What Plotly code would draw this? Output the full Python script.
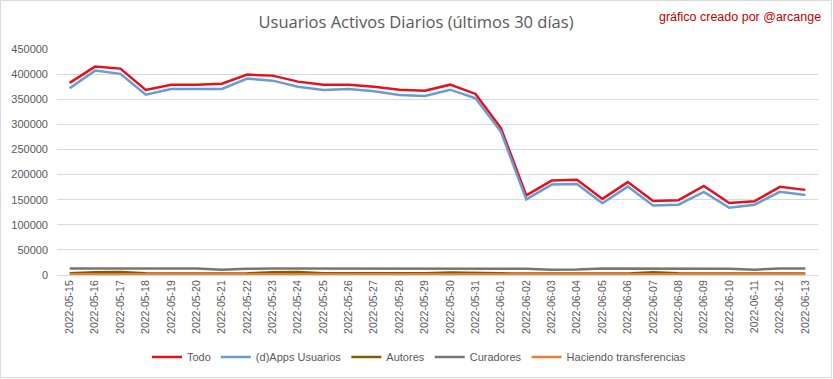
import plotly.graph_objects as go

dates = ["2022-05-15", "2022-05-16", "2022-05-17", "2022-05-18", "2022-05-19", "2022-05-20",
         "2022-05-21", "2022-05-22", "2022-05-23", "2022-05-24", "2022-05-25", "2022-05-26",
         "2022-05-27", "2022-05-28", "2022-05-29", "2022-05-30", "2022-05-31", "2022-06-01",
         "2022-06-02", "2022-06-03", "2022-06-04", "2022-06-05", "2022-06-06", "2022-06-07",
         "2022-06-08", "2022-06-09", "2022-06-10", "2022-06-11", "2022-06-12", "2022-06-13"]

todo = [382500, 415000, 411000, 368500, 379000, 379000, 381000, 399000, 397000, 385000,
        379000, 379000, 375000, 369000, 367000, 379000, 360500, 292500, 158500, 188000,
        189500, 151500, 185000, 147500, 149000, 177500, 143500, 147000, 175500, 169500]

dapps = [372000, 407000, 400500, 359000, 370500, 370500, 370500, 391000, 387000, 375000,
         368500, 370500, 366000, 358500, 356500, 369000, 352000, 285000, 150500, 180000,
         181000, 143000, 176000, 138500, 140000, 165500, 134000, 140000, 165500, 159500]

autores = [3500, 5500, 5800, 3500, 3200, 3200, 3000, 3500, 5500, 5800,
           3500, 3200, 3000, 3200, 3300, 5000, 3500, 3300, 3000, 3000,
           3000, 3000, 3200, 5500, 3300, 3000, 2800, 2800, 3000, 3000]

curadores = [13000, 13000, 13000, 13000, 13000, 13000, 10500, 12500, 13000, 13000,
             13000, 13000, 13000, 13000, 13000, 13000, 13000, 13000, 12500, 10500,
             11000, 13000, 13000, 13000, 13000, 13000, 12500, 10500, 13000, 13000]

transfer = [1500, 1500, 1500, 1500, 1500, 1500, 1400, 1500, 1500, 1500,
            1500, 1500, 1500, 1500, 1500, 1500, 1500, 1500, 1400, 1400,
            1400, 1400, 1500, 1500, 1500, 1400, 1400, 1400, 1500, 1500]

y_ticks = [0, 50000, 100000, 150000, 200000, 250000, 300000, 350000, 400000, 450000]

series = [
    ("Todo", todo, "#E3121B"),
    ("(d)Apps Usuarios", dapps, "#6A9BD3"),
    ("Autores", autores, "#7F6000"),
    ("Curadores", curadores, "#767676"),
    ("Haciendo transferencias", transfer, "#ED7D31"),
]

fig = go.Figure()
for name, vals, color in series:
    fig.add_trace(go.Scatter(x=dates, y=vals, name=name, mode="lines",
                             line=dict(color=color, width=2.5)))

W, H = 833, 379
ml, mr, mt, mb = 57, 15, 49, 104
pw = W - ml - mr
ph = H - mt - mb

fig.update_layout(
    width=W, height=H,
    margin=dict(l=ml, r=mr, t=mt, b=mb, autoexpand=False),
    paper_bgcolor="white", plot_bgcolor="white",
    font=dict(family="Liberation Sans, Arial, sans-serif", color="#595959", size=11),
    title=dict(text="Usuarios Activos Diarios (últimos 30 días)",
               x=416 / W, xref="container", xanchor="center",
               y=1 - 22 / H, yref="container", yanchor="middle",
               font=dict(size=16.5, color="#595959", family="Open Sans, Liberation Sans, sans-serif")),
    showlegend=True,
    legend=dict(orientation="h", xref="container", yref="container",
                x=419 / W, xanchor="center", y=(H - 357) / H, yanchor="middle",
                font=dict(size=11, color="#595959"), traceorder="normal",
                bgcolor="rgba(0,0,0,0)"),
    xaxis=dict(type="category", range=[-0.5, len(dates) - 0.5], tickangle=-90,
               showgrid=False, showline=True, linecolor="#D9D9D9", linewidth=1,
               ticks="", tickfont=dict(size=10.5, color="#595959"), fixedrange=True,
               automargin=False),
    yaxis=dict(range=[0, 450000], tickvals=y_ticks, ticktext=[str(v) for v in y_ticks],
               showgrid=True, gridcolor="#D9D9D9", gridwidth=1, zeroline=False,
               showline=False, ticks="", tickfont=dict(size=11, color="#595959"),
               ticklabelstandoff=8, automargin=False),
    annotations=[dict(text="gráfico creado por @arcange", xref="paper", yref="paper",
                      x=(823 - ml) / pw, xanchor="right", y=(H - mb - 17) / ph, yanchor="middle",
                      showarrow=False, font=dict(size=12.5, color="#C00000"))],
    shapes=[dict(type="rect", xref="paper", yref="paper",
                 x0=(0.5 - ml) / pw, x1=(W - 1.5 - ml) / pw,
                 y0=(H - mb - (H - 1.5)) / ph, y1=(H - mb - 0.5) / ph,
                 line=dict(color="#D9D9D9", width=1), fillcolor="rgba(0,0,0,0)", layer="below")],
)

fig.write_html("out.html", config={"displayModeBar": False},
               post_script="document.body.style.margin='0';document.body.style.overflow='hidden';")
